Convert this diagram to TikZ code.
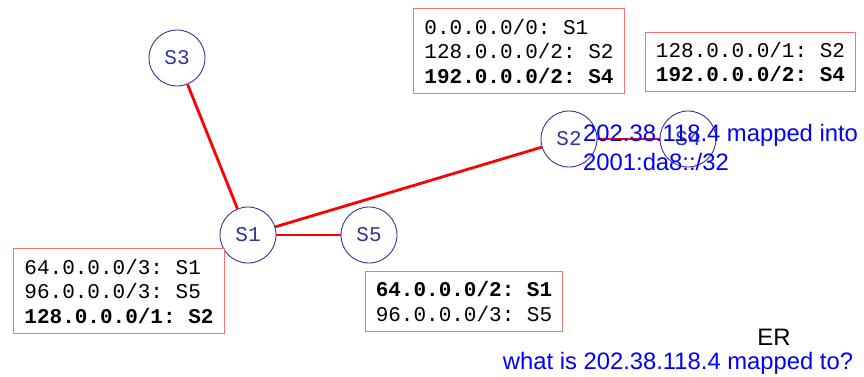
\documentclass[tikz,border=0pt]{standalone}
\usepackage{fontspec}
\setmainfont{Liberation Sans}
\setsansfont{Liberation Sans}
\setmonofont{Liberation Mono}
\usepackage{tikz}
\usetikzlibrary{arrows.meta,positioning}
\definecolor{routerBlue}{HTML}{333399}
\definecolor{tableRed}{HTML}{FF7070}
\definecolor{noteBlue}{HTML}{0000FF}
\definecolor{linkRed}{HTML}{FF0000}

\begin{document}
\begin{tikzpicture}[x=1pt,y=-1pt,
    router/.style={circle,draw=routerBlue,line width=0.9pt,minimum size=56pt,inner sep=0pt,
      text=routerBlue,font=\fontsize{21}{24}\selectfont\ttfamily},
    link/.style={linkRed,line width=2.8pt},
    rtable/.style={draw=tableRed,line width=1pt,fill=white,align=left,inner xsep=10.5pt,inner ysep=10pt,
      font=\fontsize{21}{24.5}\selectfont\ttfamily},
    note/.style={font=\fontsize{23.8}{29}\selectfont\sffamily}]
  \useasboundingbox (0,0) rectangle (864,376);
  % routers
  \node[router] (s3) at (177,58) {S3};
  \node[router] (s1) at (248,235) {S1};
  \node[router] (s5) at (369,235) {S5};
  \node[router] (s2) at (569,139) {S2};
  \node[router] (s4) at (688,139) {S4};
  % links
  \draw[link] (s3) -- (s1);
  \draw[link] (s1) -- (s5);
  \draw[link] (s1) -- (s2);
  \draw[link] (s2) -- (s4);
  % forwarding tables
  \node[rtable] (tabS2) at (519,51)
    {0.0.0.0/0: S1\\128.0.0.0/2: S2\\\textbf{192.0.0.0/2: S4}};
  \node[rtable] (tabS4) at (750.5,62)
    {128.0.0.0/1: S2\\\textbf{192.0.0.0/2: S4}};
  \node[rtable] (tabS1) at (119,291)
    {64.0.0.0/3: S1\\96.0.0.0/3: S5\\\textbf{128.0.0.0/1: S2}};
  \node[rtable] (tabS5) at (464,301.5)
    {\textbf{64.0.0.0/2: S1}\\96.0.0.0/3: S5};
  % notes
  \node[note,text=noteBlue,align=left,anchor=west,inner sep=0pt] (mapped) at (583,147)
    {202.38.118.4 mapped into\\2001:da8::/32};
  \node[note,inner sep=0pt] (er) at (774,337) {ER};
  \node[note,text=noteBlue,inner sep=0pt] (query) at (678,363) {what is 202.38.118.4 mapped to?};
\end{tikzpicture}
\end{document}
